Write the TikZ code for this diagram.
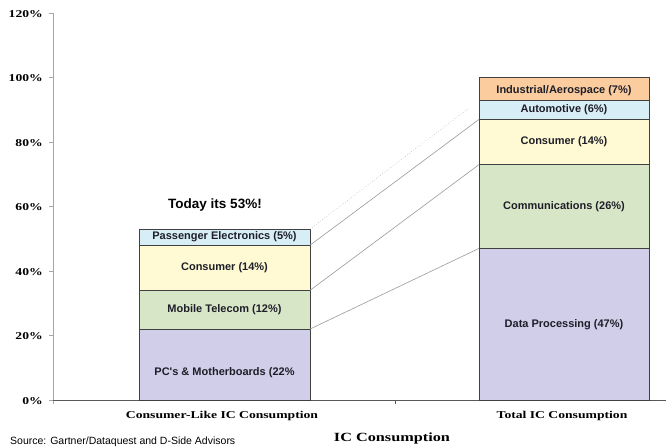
\documentclass[tikz,border=0pt]{standalone}
\usepackage{fontspec}
\newfontfamily\arialf{Liberation Sans}
\newfontfamily\timesx[FakeStretch=1.3]{Liberation Serif}
\definecolor{cpc}{RGB}{208,206,232}
\definecolor{cgreen}{RGB}{216,230,200}
\definecolor{cyel}{RGB}{255,250,212}
\definecolor{cblue}{RGB}{216,238,246}
\definecolor{corange}{RGB}{250,204,158}
\definecolor{ctext}{RGB}{30,30,40}
\begin{document}
\begin{tikzpicture}[x=1pt,y=-1pt,
  seg/.style={draw=black!75, line width=0.8pt, inner sep=0pt, outer sep=0pt, anchor=south west,
    font=\arialf\bfseries\fontsize{11}{12}\selectfont, text=ctext},
  lbar/.style={seg, minimum width=171pt},
  rbar/.style={seg, minimum width=170pt},
  tlbl/.style={font=\timesx\bfseries\fontsize{10.5}{12}\selectfont, inner sep=0pt},
  ylbl/.style={tlbl, anchor=east},
  conn/.style={draw=gray!80, line width=0.6pt},
  yax/.style={draw=gray!70, line width=0.7pt},
  xax/.style={draw=black!65, line width=0.8pt}]
\useasboundingbox (0,0) rectangle (666,447);
% axes
\coordinate (y0) at (53,400);
\coordinate (ytop) at (53,13);
\coordinate (xend) at (666,400);
\coordinate (xmid) at (395,400);
\coordinate (xmidb) at (395,404);
\draw[yax] (ytop) -- (y0);
\foreach \v/\y in {0/400,20/335.5,40/271,60/206.5,80/142,100/77.5,120/13}{
  \coordinate (t\v) at (53,\y);
  \coordinate (tl\v) at (49,\y);
  \draw[yax] (tl\v) -- (t\v);
  \node[ylbl] (yl\v) at (43,\y+1) {\v\%};
}
\coordinate (y0b) at (53,404);
\draw[yax] (y0) -- (y0b);
\draw[xax] (y0) -- (xend);
\draw[xax] (xmid) -- (xmidb);
% left bar
\node[lbar, fill=cpc, minimum height=70.95pt,
  label={[name=pclbl, yshift=-8pt, font=\arialf\bfseries\fontsize{11}{12}\selectfont, text=ctext]center:PC's \& Motherboards (22\%}] (pc) at (139,400) {};
\node[lbar, fill=cgreen, minimum height=38.7pt] (mob) at (pc.north west) {Mobile Telecom (12\%)};
\node[lbar, fill=cyel, minimum height=45.15pt] (lcons) at (mob.north west) {Consumer (14\%)};
\node[lbar, fill=cblue, minimum height=16.1pt] (pass) at (lcons.north west) {Passenger Electronics (5\%)};
% right bar
\node[rbar, fill=cpc, minimum height=151.6pt] (dp) at (479,400) {Data Processing (47\%)};
\node[rbar, fill=cgreen, minimum height=83.8pt] (comm) at (dp.north west) {Communications (26\%)};
\node[rbar, fill=cyel, minimum height=45.2pt] (rcons) at (comm.north west) {Consumer (14\%)};
\node[rbar, fill=cblue, minimum height=19.3pt] (auto) at (rcons.north west) {Automotive (6\%)};
\node[rbar, fill=corange, minimum height=22.6pt,
  label={[name=indlbl, yshift=-2pt, font=\arialf\bfseries\fontsize{11}{12}\selectfont, text=ctext]center:Industrial/Aerospace (7\%)}] (ind) at (auto.north west) {};
% connectors
\draw[conn] (pc.north east) -- (dp.north west);
\draw[conn] (mob.north east) -- (comm.north west);
\draw[conn] (lcons.north east) -- (rcons.north west);
\coordinate (fadeend) at (469,108);
\draw[draw=gray!55, line width=0.6pt, dotted] (pass.north east) -- (fadeend);
% texts
\node[font=\arialf\bfseries\fontsize{13.5}{15}\selectfont, inner sep=0pt] (today) at (215,205) {Today its 53\%!};
\node[tlbl] (cat1) at (222,416) {Consumer-Like IC Consumption};
\node[tlbl] (cat2) at (562,416) {Total IC Consumption};
\node[font=\timesx\bfseries\fontsize{12.5}{14}\selectfont, inner sep=0pt] (xtitle) at (392,438) {IC Consumption};
\node[font=\arialf\fontsize{10.5}{12}\selectfont, inner sep=0pt, anchor=base west] (src) at (10,444) {Source: Gartner/Dataquest and D-Side Advisors};
\end{tikzpicture}
\end{document}
